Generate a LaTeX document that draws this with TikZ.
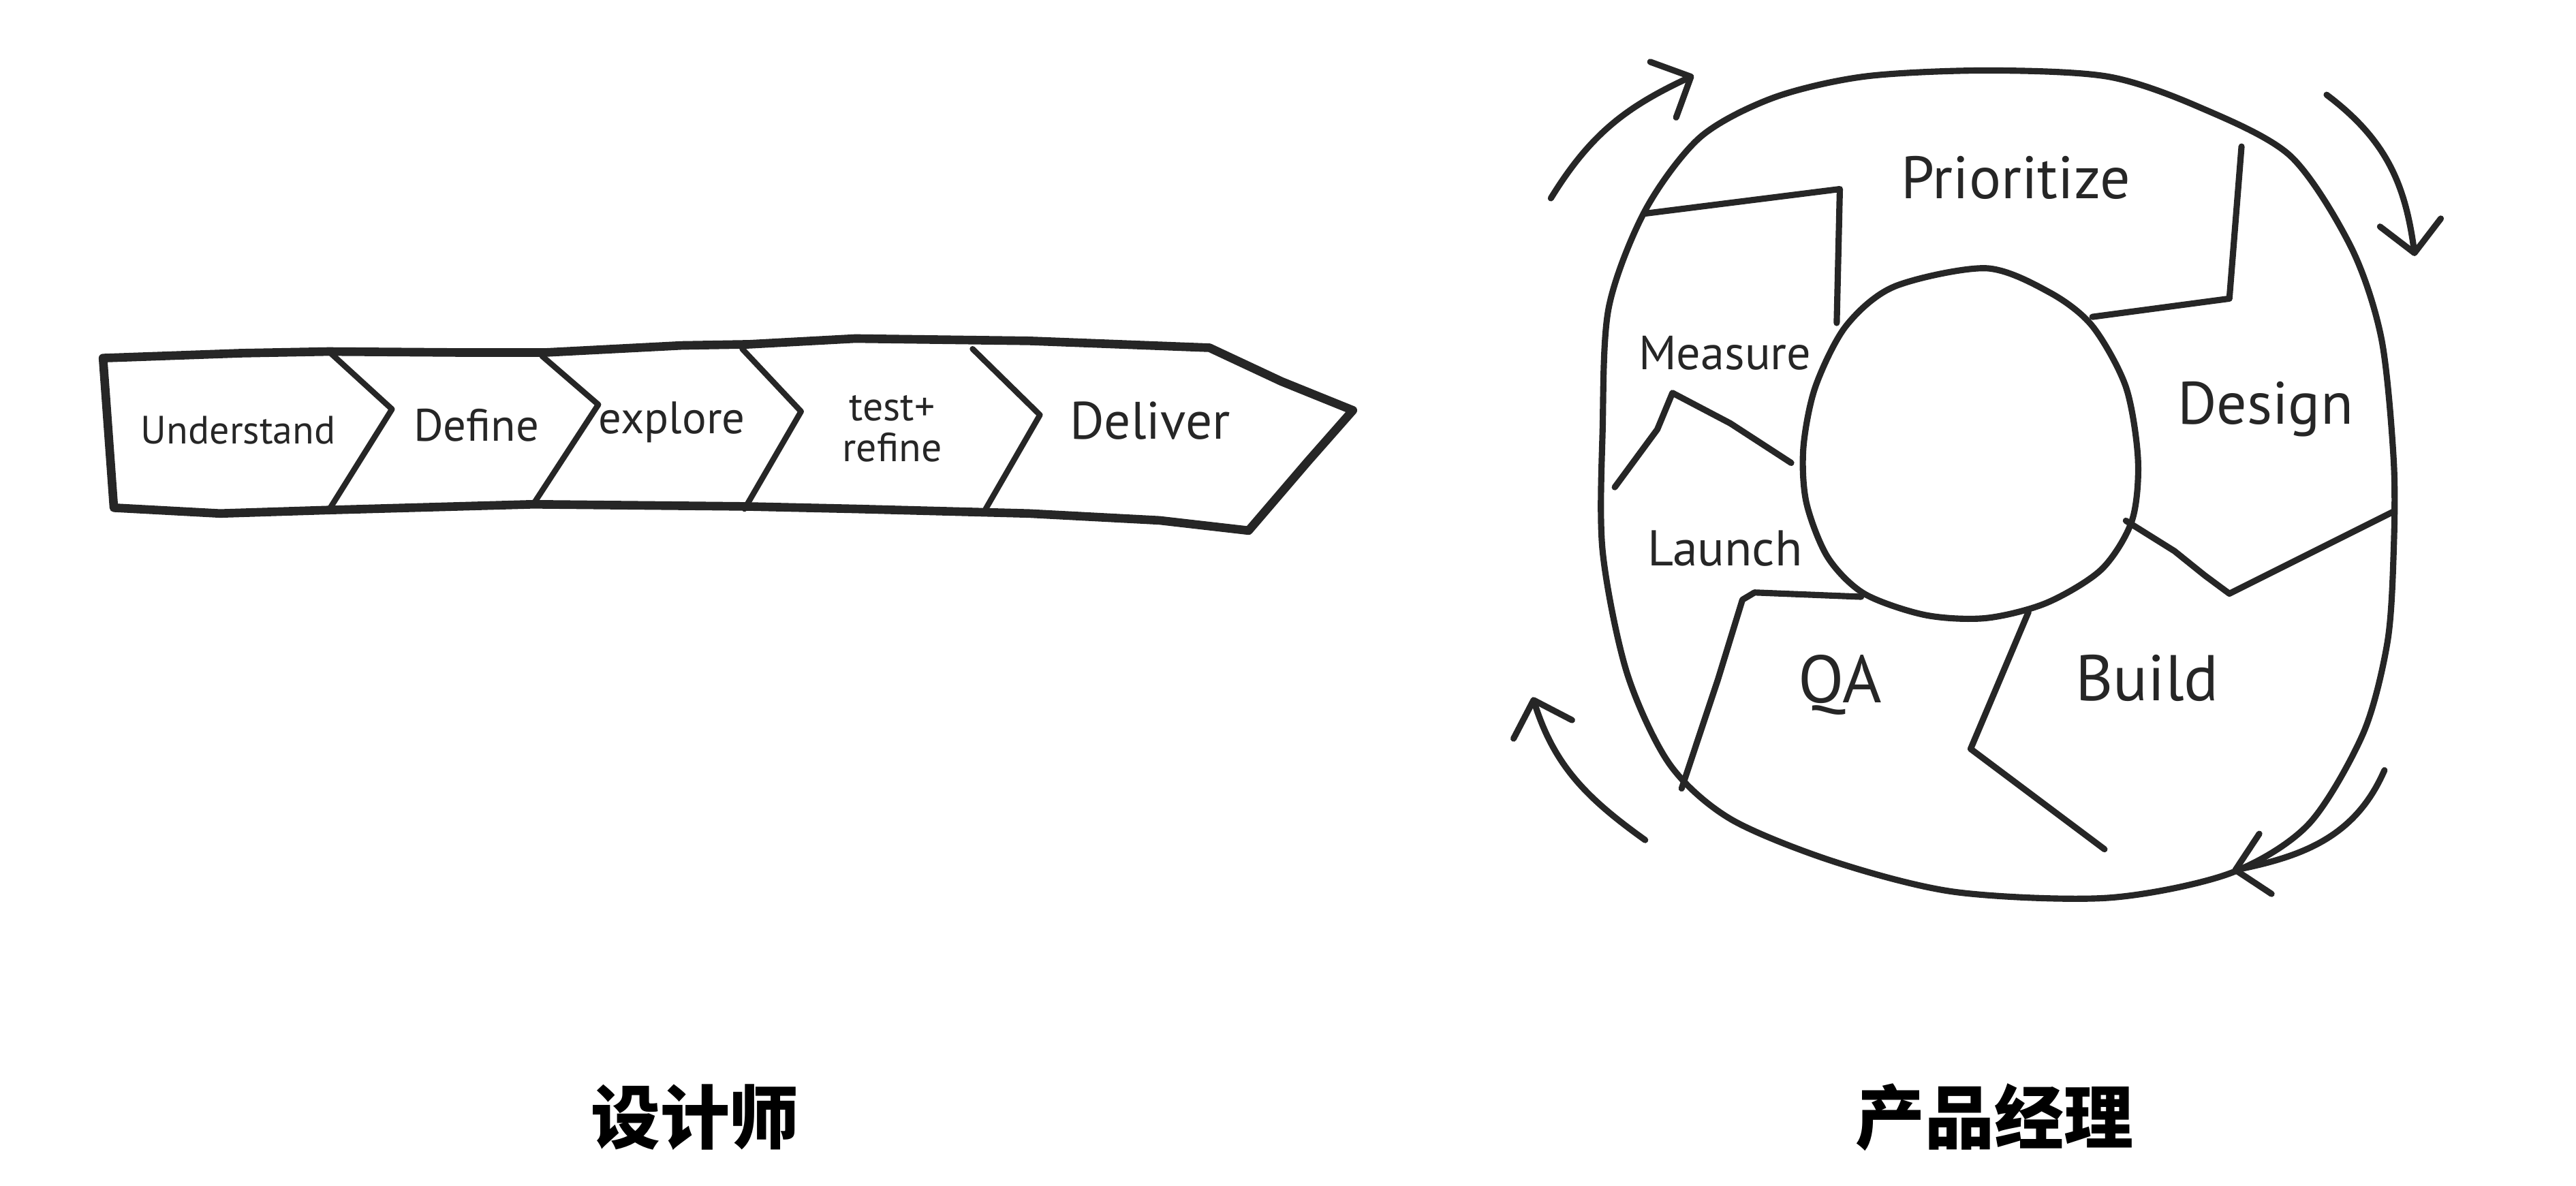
\documentclass[tikz,border=0pt]{standalone}
\usepackage{fontspec}
\setmainfont{PT Sans}
\newfontfamily\cjk{Noto Sans CJK SC}
\usetikzlibrary{arrows.meta}

\begin{document}
\begin{tikzpicture}[
    x=0.02411cm, y=-0.02411cm,
    band/.style={line width=3.6pt, line join=round, line cap=round, draw=black!85},
    divider/.style={line width=2.4pt, line join=round, line cap=round, draw=black!85},
    wheel/.style={line width=2.6pt, line join=round, line cap=round, draw=black!85},
    turn/.style={line width=2.6pt, line cap=round, draw=black!85,
        -{Straight Barb[length=4.5mm, width=9mm, line width=2.6pt, round]}},
    hand/.style={font=\fontsize{#1}{#1}\selectfont, text=black!85, align=center, inner sep=0pt},
    hand/.default=17,
    phase/.style={font=\fontsize{#1}{#1}\selectfont, text=black!85, inner sep=0pt},
    phase/.default=24,
    title/.style={font=\cjk\bfseries\fontsize{29}{32}\selectfont, inner sep=0pt}
]
\useasboundingbox (0,0) rectangle (1568,722);

% Designer: chevron band
\draw[band] (62.7,218) -- (147,215) -- (200,214) -- (280,214.6) -- (332,214.6)
    -- (415,210.3) -- (456,209.6) -- (520.6,206.1) -- (626.4,207.5) -- (736.2,211.7)
    -- (780,232.2) -- (823.5,249.8) -- (796,281) -- (760,323)
    -- (705.8,316.8) -- (626.4,312.6) -- (520.6,309.8) -- (454,308.3) -- (324.6,307)
    -- (200.2,310.5) -- (134,312.6) -- (69.3,309.1) -- cycle;

% Chevron dividers
\foreach \tx/\ty/\px/\py/\bx/\by in {201.6/215.3/238.6/249.1/200.2/310.5,
        329.9/216.7/364.2/246.3/324.6/307, 451.8/212.4/487.6/250.5/453.2/309.8,
        592/212.4/633/252.6/600/309.8}
    \draw[divider] (\tx,\ty) -- (\px,\py) -- (\bx,\by);

\node[hand=16.5] (understand) at (145,262) {Understand};
\node[hand=19] (define) at (290,259) {Define};
\node[hand=19] (explore) at (409,257) {explore};
\node[hand=17] (refine) at (543,261) {test+\\refine};
\node[hand=22] (deliver) at (700,256) {Deliver};

% Product manager: cycle
\draw[wheel] plot[smooth cycle] coordinates {(1001.4,128.1) (1034.7,83.7) (1079.2,59.6)
    (1134.7,46.6) (1208.8,42.9) (1282.9,46.6) (1338.4,65.1) (1394,94.8) (1431,150.3)
    (1449.5,205.9) (1457,280) (1457,335.5) (1453.2,391) (1438.4,446.6) (1405,502)
    (1357,531.8) (1282.9,546.6) (1190,543) (1116,524.4) (1053.2,498.5) (1016.2,465.1)
    (990.3,409.6) (975.5,335.5) (975.5,261.4) (979.2,187.4)};
\draw[wheel] plot[smooth cycle] coordinates {(1208.8,163.3) (1247.7,178.1) (1273.6,198.5)
    (1294,235.5) (1301.4,280) (1297.7,317) (1279.2,346.6) (1245.8,367) (1208.8,376.3)
    (1171.8,374.4) (1134.7,361.4) (1112.5,339.2) (1099.5,305.9) (1097.7,272.5)
    (1105,235.5) (1123.6,198.5) (1153.2,174.4)};

% Segment borders
\draw[wheel] (1001.4,130) -- (1119.9,115.1) -- (1118,196.6);
\draw[wheel] (1364.4,89.2) -- (1357,181.8) -- (1273.6,192.9);
\draw[wheel] (1294,317) -- (1323.6,335.5) -- (1342,350.3) -- (1357,361.4) -- (1457,311.4);
\draw[wheel] (1234.7,372.6) -- (1199.5,455.9) -- (1281,517);
\draw[wheel] (1132.9,363.3) -- (1068,360.7) -- (1060.6,365.1) -- (1045.8,413.3) -- (1023.6,480);
\draw[wheel] (1090.3,281.8) -- (1053.2,257.7) -- (1018,239.2) -- (1008.8,261.4) -- (982.9,296.6);

\node[phase=25] (prioritize) at (1227,108) {Prioritize};
\node[phase=25] (design) at (1379,249) {Design};
\node[phase=27] (build) at (1307,413) {Build};
\node[phase=28] (qa) at (1120,417) {QA};
\node[phase=21] (launch) at (1050,334) {Launch};
\node[phase=20] (measure) at (1050,215) {Measure};

% Turning arrows
\coordinate (tl-a) at (944,120.7);
\coordinate (tl-b) at (1031,45.9);
\coordinate (tr-a) at (1416.2,57.7);
\coordinate (tr-b) at (1469.9,155.9);
\coordinate (br-a) at (1451.4,468.9);
\coordinate (br-b) at (1358.8,530);
\coordinate (bl-a) at (1001.4,511.4);
\coordinate (bl-b) at (932.9,424.4);
\draw[turn] (tl-a) .. controls (968,81.7) and (989.6,65.2) .. (tl-b);
\draw[turn] (tr-a) .. controls (1452,84.7) and (1464,111.4) .. (tr-b);
\draw[turn] (br-a) .. controls (1433.8,509.4) and (1401.9,521.2) .. (br-b);
\draw[turn] (bl-a) .. controls (965.8,485.9) and (946.1,466.2) .. (bl-b);

% Captions
\node[title] (designer) at (423,680) {设计师};
\node[title] (manager) at (1214,680) {产品经理};

\end{tikzpicture}
\end{document}
